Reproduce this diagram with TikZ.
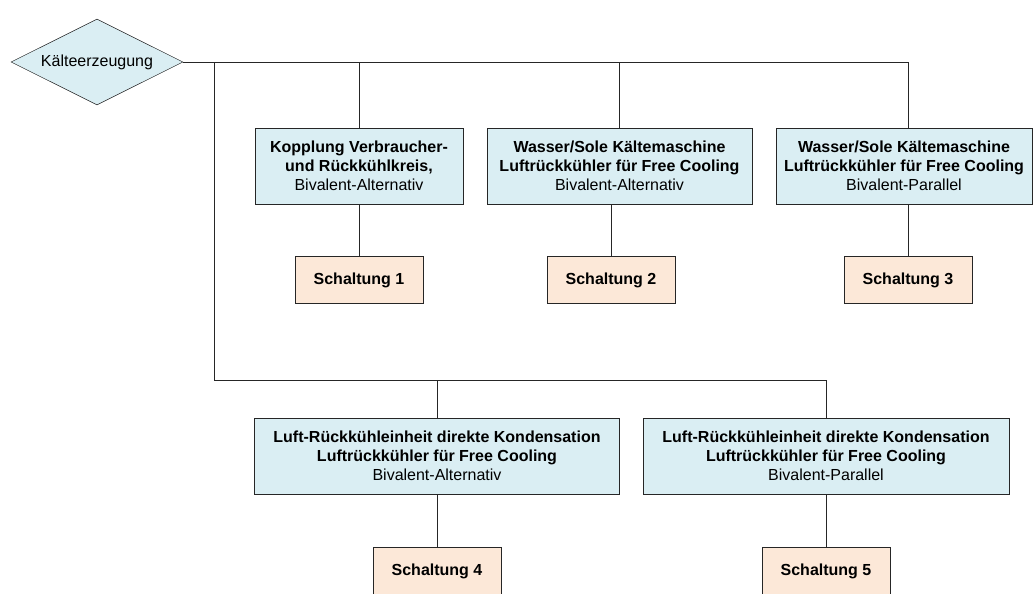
\documentclass[tikz,border=0pt]{standalone}
\usepackage{fontspec}
\setmainfont{Liberation Sans}
\usepackage{xcolor}
\usetikzlibrary{shapes.geometric}

\definecolor{boxblue}{HTML}{DAEEF3}
\definecolor{boxpeach}{HTML}{FCE8D8}
\definecolor{linegray}{HTML}{262626}

\begin{document}
\begin{tikzpicture}[x=0.75pt,y=-0.75pt,
  every node/.style={font=\fontsize{12}{14.25}\selectfont},
  variant/.style={draw=linegray,fill=boxblue,align=center,minimum height=57pt,inner sep=0pt},
  circuit/.style={draw=linegray,fill=boxpeach,font=\fontsize{12}{14.25}\selectfont\bfseries,minimum width=96pt,minimum height=35.25pt,inner sep=0pt},
  link/.style={draw=linegray,line width=0.6pt}]
\clip (0,0) rectangle (1035,593) ;

\node[diamond,draw=linegray,fill=boxblue,aspect=2,minimum width=129pt,minimum height=64.5pt,inner sep=0pt] (root) at (97,62) {Kälteerzeugung} ;

\node[variant,minimum width=156pt] (var1) at (359,166) {\textbf{Kopplung Verbraucher-}\\\textbf{und Rückkühlkreis,}\\Bivalent-Alternativ} ;
\node[variant,minimum width=198.75pt] (var2) at (619.5,166) {\textbf{Wasser/Sole Kältemaschine}\\\textbf{Luftrückkühler für Free Cooling}\\Bivalent-Alternativ} ;
\node[variant,minimum width=192pt] (var3) at (904,166) {\textbf{Wasser/Sole Kältemaschine}\\\textbf{Luftrückkühler für Free Cooling}\\Bivalent-Parallel} ;
\node[variant,minimum width=273.75pt] (var4) at (437,456) {\textbf{Luft-Rückkühleinheit direkte Kondensation}\\\textbf{Luftrückkühler für Free Cooling}\\Bivalent-Alternativ} ;
\node[variant,minimum width=274.5pt] (var5) at (826,456) {\textbf{Luft-Rückkühleinheit direkte Kondensation}\\\textbf{Luftrückkühler für Free Cooling}\\Bivalent-Parallel} ;

\node[circuit] (sch1) at (359,280) {Schaltung 1} ;
\node[circuit] (sch2) at (611,280) {Schaltung 2} ;
\node[circuit] (sch3) at (908,280) {Schaltung 3} ;
\node[circuit] (sch4) at (437,571) {Schaltung 4} ;
\node[circuit] (sch5) at (826,571) {Schaltung 5} ;

\coordinate (split) at (214,62) ;
\coordinate (lower) at (214,380) ;

\draw[link] (root.east) -- (sch3.north |- root.east) -- (sch3.north |- var3.north) ;
\draw[link] (var1.north |- root.east) -- (var1.north) ;
\draw[link] (var2.north |- root.east) -- (var2.north) ;
\draw[link] (split) -- (lower) -| (var5.north) ;
\draw[link] (var4.north |- lower) -- (var4.north) ;

\draw[link] (sch1.north |- var1.south) -- (sch1.north) ;
\draw[link] (sch2.north |- var2.south) -- (sch2.north) ;
\draw[link] (sch3.north |- var3.south) -- (sch3.north) ;
\draw[link] (sch4.north |- var4.south) -- (sch4.north) ;
\draw[link] (sch5.north |- var5.south) -- (sch5.north) ;

\end{tikzpicture}
\end{document}
